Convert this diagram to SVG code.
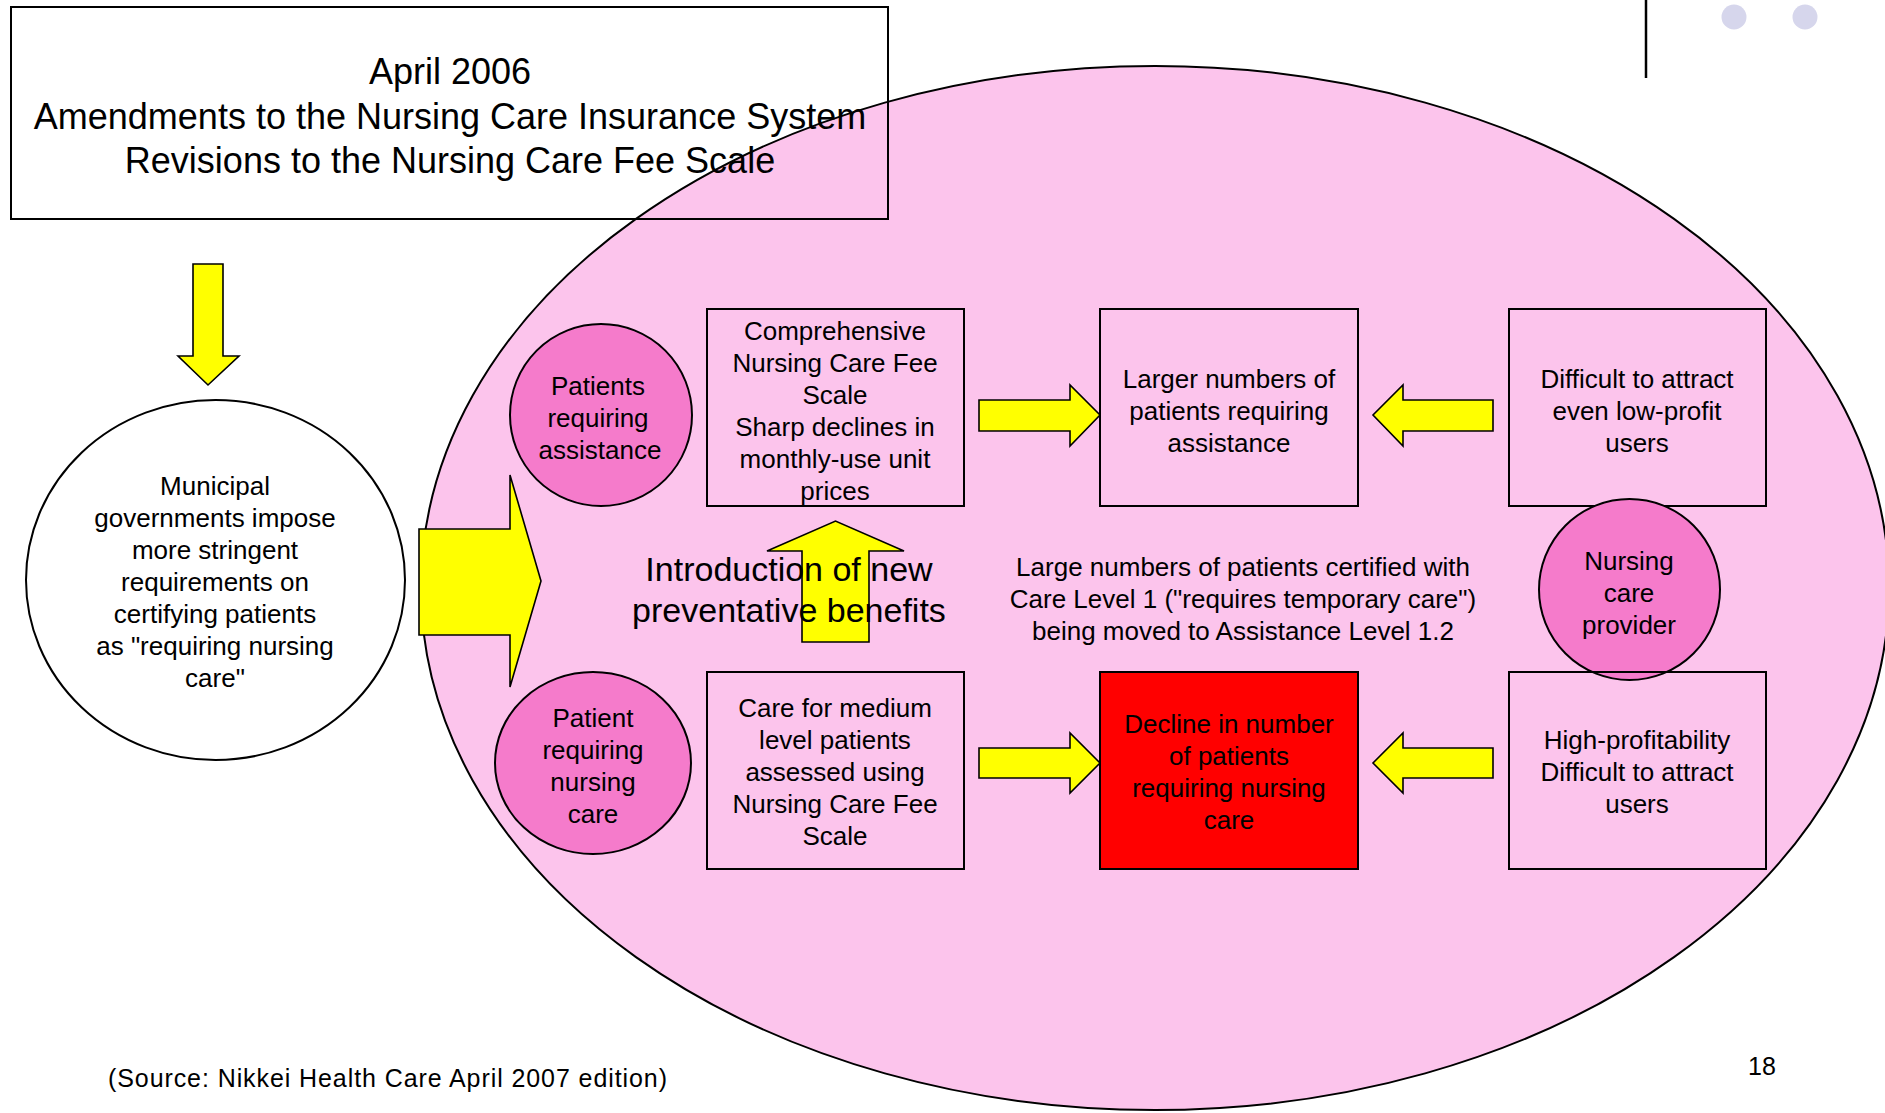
<svg xmlns="http://www.w3.org/2000/svg" width="1885" height="1113" viewBox="0 0 1885 1113">
<style>
.t{font-family:"Liberation Sans",Arial,Helvetica,sans-serif;font-size:26px;text-anchor:middle;fill:#000}
.big{font-size:34px}
.title{font-size:36px}
.box{fill:none;stroke:#000;stroke-width:2}
.pc{fill:#F57BCB;stroke:#000;stroke-width:2}
.arrow{fill:#FFFF00;stroke:#000;stroke-width:1.6;stroke-linejoin:miter}
</style>
<rect x="0" y="0" width="1885" height="1113" fill="#FFFFFF"/>
<g id="background">
  <ellipse cx="1155" cy="588" rx="734" ry="522" fill="#FCC4EC" stroke="#000" stroke-width="2"/>
  <line x1="1646" y1="0" x2="1646" y2="78" stroke="#000" stroke-width="2.5"/>
  <circle cx="1734" cy="17" r="12.5" fill="#D6D6EC"/>
  <circle cx="1805" cy="17" r="12.5" fill="#D6D6EC"/>
</g>
<g id="title">
  <rect class="box" x="11" y="7" width="877" height="212"/>
  <text class="t title" x="450" y="84">April 2006</text>
  <text class="t title" x="450" y="129">Amendments to the Nursing Care Insurance System</text>
  <text class="t title" x="450" y="173">Revisions to the Nursing Care Fee Scale</text>
</g>
<g id="connectors">
  <polygon class="arrow" points="193,264 223,264 223,356 239,356 208,385 178,356 193,356"/>
  <polygon class="arrow" points="419,529 510,529 510,475 541,581 510,687 510,635 419,635"/>
  <polygon class="arrow" points="802,642 869,642 869,551 904,551 835.5,521 767,551 802,551"/>
  <polygon class="arrow" points="979,400 1070,400 1070,385 1100,415 1070,446 1070,431 979,431"/>
  <polygon class="arrow" points="1493,400 1403,400 1403,385 1373,415 1403,446 1403,431 1493,431"/>
  <polygon class="arrow" points="979,748 1070,748 1070,733 1100,763 1070,793 1070,778 979,778"/>
  <polygon class="arrow" points="1493,748 1403,748 1403,733 1373,763 1403,793 1403,778 1493,778"/>
</g>
<g id="municipal">
  <ellipse cx="215.5" cy="580" rx="189.5" ry="180" fill="#FFFFFF" stroke="#000" stroke-width="2"/>
  <text class="t" x="215" y="495">Municipal</text>
  <text class="t" x="215" y="527">governments impose</text>
  <text class="t" x="215" y="559">more stringent</text>
  <text class="t" x="215" y="591">requirements on</text>
  <text class="t" x="215" y="623">certifying patients</text>
  <text class="t" x="215" y="655">as "requiring nursing</text>
  <text class="t" x="215" y="687">care"</text>
</g>
<g id="patients-assistance">
  <circle class="pc" cx="601" cy="415" r="91"/>
  <text class="t" x="598" y="395">Patients</text>
  <text class="t" x="598" y="427">requiring</text>
  <text class="t" x="600" y="459">assistance</text>
</g>
<g id="comprehensive">
  <rect class="box" x="707" y="309" width="257" height="197"/>
  <text class="t" x="835" y="340">Comprehensive</text>
  <text class="t" x="835" y="372">Nursing Care Fee</text>
  <text class="t" x="835" y="404">Scale</text>
  <text class="t" x="835" y="436">Sharp declines in</text>
  <text class="t" x="835" y="468">monthly-use unit</text>
  <text class="t" x="835" y="500">prices</text>
</g>
<g id="larger">
  <rect class="box" x="1100" y="309" width="258" height="197"/>
  <text class="t" x="1229" y="388">Larger numbers of</text>
  <text class="t" x="1229" y="420">patients requiring</text>
  <text class="t" x="1229" y="452">assistance</text>
</g>
<g id="difficult-low">
  <rect class="box" x="1509" y="309" width="257" height="197"/>
  <text class="t" x="1637" y="388">Difficult to attract</text>
  <text class="t" x="1637" y="420">even low-profit</text>
  <text class="t" x="1637" y="452">users</text>
</g>
<g id="preventative">
  <text class="t big" x="789" y="581">Introduction of new</text>
  <text class="t big" x="789" y="622">preventative benefits</text>
</g>
<g id="care-level-note">
  <text class="t" x="1243" y="576">Large numbers of patients certified with</text>
  <text class="t" x="1243" y="608">Care Level 1 ("requires temporary care")</text>
  <text class="t" x="1243" y="640">being moved to Assistance Level 1.2</text>
</g>
<g id="provider">
  <circle class="pc" cx="1629.5" cy="589.5" r="90.5"/>
  <text class="t" x="1629" y="570">Nursing</text>
  <text class="t" x="1629" y="602">care</text>
  <text class="t" x="1629" y="634">provider</text>
</g>
<g id="patient-nursing">
  <ellipse class="pc" cx="593" cy="763" rx="98" ry="91"/>
  <text class="t" x="593" y="727">Patient</text>
  <text class="t" x="593" y="759">requiring</text>
  <text class="t" x="593" y="791">nursing</text>
  <text class="t" x="593" y="823">care</text>
</g>
<g id="medium">
  <rect class="box" x="707" y="672" width="257" height="197"/>
  <text class="t" x="835" y="717">Care for medium</text>
  <text class="t" x="835" y="749">level patients</text>
  <text class="t" x="835" y="781">assessed using</text>
  <text class="t" x="835" y="813">Nursing Care Fee</text>
  <text class="t" x="835" y="845">Scale</text>
</g>
<g id="decline">
  <rect x="1100" y="672" width="258" height="197" fill="#FF0000" stroke="#000" stroke-width="2"/>
  <text class="t" x="1229" y="733">Decline in number</text>
  <text class="t" x="1229" y="765">of patients</text>
  <text class="t" x="1229" y="797">requiring nursing</text>
  <text class="t" x="1229" y="829">care</text>
</g>
<g id="high-profit">
  <rect class="box" x="1509" y="672" width="257" height="197"/>
  <text class="t" x="1637" y="749">High-profitability</text>
  <text class="t" x="1637" y="781">Difficult to attract</text>
  <text class="t" x="1637" y="813">users</text>
</g>
<g id="footer">
  <text class="t" x="108" y="1087" style="text-anchor:start;font-size:25px" textLength="559" lengthAdjust="spacing">(Source: Nikkei Health Care April 2007 edition)</text>
  <text class="t" x="1762" y="1075" style="font-size:25px">18</text>
</g>
</svg>
